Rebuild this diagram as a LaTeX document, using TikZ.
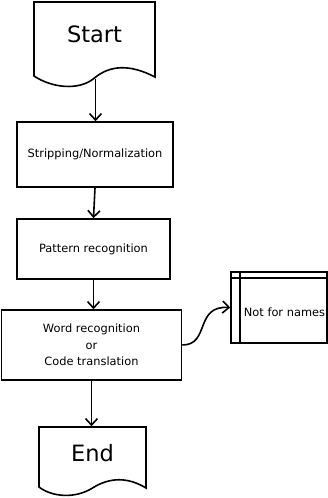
\documentclass[tikz,border=0pt]{standalone}
\usepackage{fontspec}
\setmainfont{DejaVu Sans}
\usetikzlibrary{arrows.meta}
\begin{document}
\begin{tikzpicture}[x=1pt,y=-1pt,
  line width=1.6pt,
  body/.style={font=\fontsize{11.4}{16.5}\selectfont},
  big/.style={font=\fontsize{22.5}{27}\selectfont},
  proc/.style={draw, rectangle, body, align=center, inner sep=0pt},
  flow/.style={-{Straight Barb[length=6.5pt,width=12pt]}}
]
\useasboundingbox (0,0) rectangle (328,498);

% terminal documents
\node[big, minimum width=121pt, minimum height=64pt, inner sep=0pt] (start) at (94.5,34) {Start};
\draw (34,76) -- (34,2) -- (155,2) -- (155,77)
  .. controls (130,64) and (110,65) .. (94.5,78)
  .. controls (79,91) and (52,88) .. cycle;
\coordinate (startwave) at (95.5,79);

\node[big, minimum width=107pt, minimum height=52pt, inner sep=0pt] (end) at (92.5,453) {End};
\draw (39,487) -- (39,427) -- (146,427) -- (146,488)
  .. controls (128,477) and (110,477) .. (92.5,488)
  .. controls (75,499) and (52,497) .. cycle;

% process steps
\node[proc, minimum width=156pt, minimum height=65pt] (strip) at (95,154.5) {Stripping/Normalization};
\node[proc, minimum width=153pt, minimum height=60pt] (pattern) at (93.5,249) {Pattern recognition};
\node[proc, minimum width=180pt, minimum height=70pt] (word) at (91.5,345) {Word recognition\\or\\Code translation};

% internal storage
\node[draw, rectangle, minimum width=96pt, minimum height=71pt, inner sep=0pt] (store) at (279,307.5) {};
\draw ([xshift=10pt]store.north west) -- ([xshift=10pt]store.south west);
\draw ([yshift=-7pt]store.north west) -- ([yshift=-7pt]store.north east);
\node[body, inner sep=0pt] (storetext) at (284.5,312) {Not for names};

% connectors
\draw[flow] (startwave) -- (startwave |- strip.north);
\draw[flow] (strip.south) -- (pattern.north);
\draw[flow] (pattern.south) -- (pattern.south |- word.north);
\draw[flow] (word.south) -- (word.south |- end.north);
\draw[flow] (word.east) .. controls +(28,0) and +(-36,-2) .. (store.west);
\end{tikzpicture}
\end{document}
